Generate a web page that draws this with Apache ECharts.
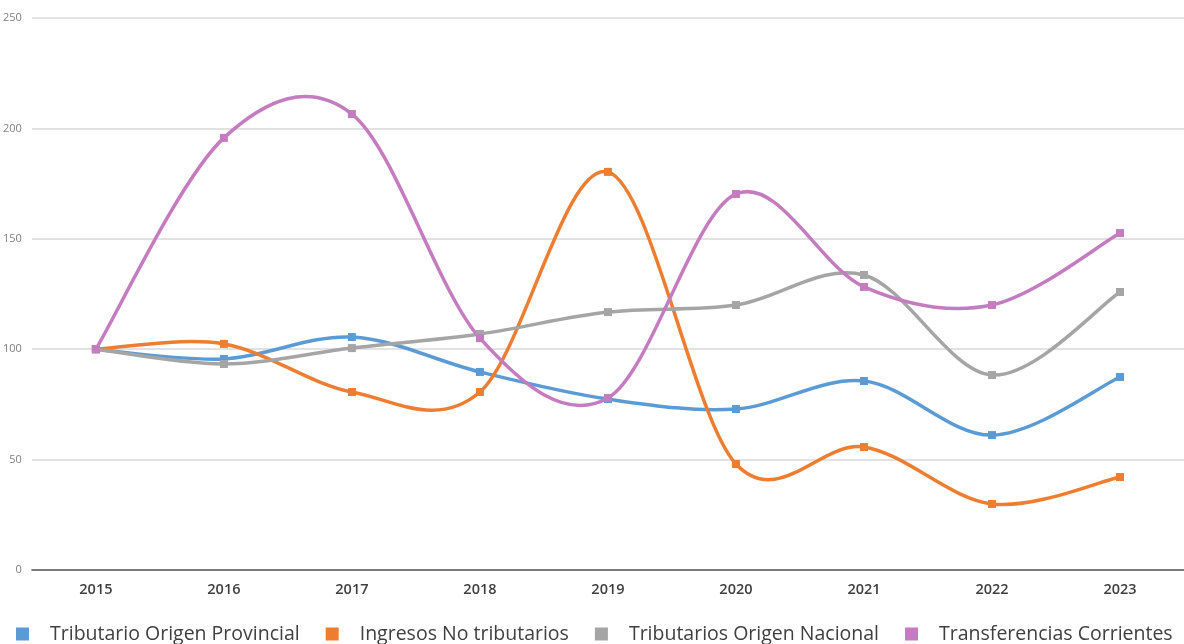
<!DOCTYPE html>
<html>
<head>
<meta charset="utf-8">
<script src="https://cdn.jsdelivr.net/npm/echarts@6/dist/echarts.min.js"></script>
<style>
  html, body { margin: 0; padding: 0; background: #fff; }
  #chart { width: 1184px; height: 644px; }
</style>
</head>
<body>
<div id="chart"></div>
<script>
  // datos
  const years = ['2015', '2016', '2017', '2018', '2019', '2020', '2021', '2022', '2023']
  const yTicks = [0, 50, 100, 150, 200, 250]
  const provincial = [100, 95.6, 105.5, 89.7, 77.4, 72.9, 85.6, 61.1, 87.4]
  const noTributarios = [100, 102.4, 80.6, 80.6, 180.3, 48, 55.7, 29.9, 42.1]
  const nacional = [100, 93.3, 100.5, 106.9, 116.8, 120, 133.6, 88.3, 125.9]
  const transferencias = [100, 195.7, 206.5, 105, 77.9, 170.3, 128.2, 120, 152.6]

  const names = ['Tributario Origen Provincial', 'Ingresos No tributarios', 'Tributarios Origen Nacional', 'Transferencias Corrientes']
  const colors = ['#5b9bd5', '#ed7d31', '#a5a5a5', '#c47bbf']
  const values = [provincial, noTributarios, nacional, transferencias]

  // curva suave tipo Excel (catmull-rom), puntos via api.coord
  function smoothCurve (color) {
    return function (params, api) {
      if (params.dataIndex !== 0) return
      const n = params.dataInsideLength
      const p = []
      for (let k = 0; k < n; k++) p.push(api.coord([k, api.value(1, k)]))
      const segs = []
      for (let k = 0; k < n - 1; k++) {
        const p0 = p[Math.max(k - 1, 0)], p1 = p[k], p2 = p[k + 1], p3 = p[Math.min(k + 2, n - 1)]
        segs.push({
          type: 'bezierCurve',
          shape: {
            x1: p1[0], y1: p1[1],
            cpx1: p1[0] + (p2[0] - p0[0]) / 6, cpy1: p1[1] + (p2[1] - p0[1]) / 6,
            cpx2: p2[0] - (p3[0] - p1[0]) / 6, cpy2: p2[1] - (p3[1] - p1[1]) / 6,
            x2: p2[0], y2: p2[1]
          },
          style: { fill: null, stroke: color, lineWidth: 3.5 }
        })
      }
      return { type: 'group', children: segs }
    }
  }

  const series = []
  values.forEach((v, i) => {
    series.push({
      name: names[i],
      type: 'line',
      data: v,
      symbol: 'rect',
      symbolSize: 8,
      lineStyle: { width: 0, opacity: 0 },
      itemStyle: { color: colors[i] },
      z: 3
    })
    series.push({
      name: names[i],
      type: 'custom',
      data: v.map((val, k) => [k, val]),
      encode: { x: 0, y: 1 },
      renderItem: smoothCurve(colors[i]),
      itemStyle: { color: colors[i] },
      z: 2
    })
  })

  const chart = echarts.init(document.getElementById('chart'))
  chart.setOption({
    color: colors,
    animation: false,
    textStyle: { fontFamily: 'Open Sans' },
    grid: {
      left: 31,
      top: 18,
      width: 1161,
      bottom: 74
    },
    legend: {
      data: names,
      left: 16,
      bottom: 0,
      padding: 0,
      itemWidth: 13,
      itemHeight: 13,
      itemGap: 26,
      icon: 'rect',
      textStyle: { fontSize: 19.5, color: '#404040', fontFamily: 'Open Sans', padding: [0, 0, 0, 16] }
    },
    xAxis: {
      type: 'category',
      data: years,
      boundaryGap: true,
      axisLine: { lineStyle: { color: '#595959', width: 1.5 } },
      axisTick: { show: false },
      axisLabel: { color: '#404040', fontSize: 14.5, fontWeight: 600, margin: 12 }
    },
    yAxis: {
      type: 'value',
      min: yTicks[0],
      max: yTicks[yTicks.length - 1],
      interval: 50,
      axisLine: { show: false },
      axisTick: { show: false },
      axisLabel: { color: '#7f7f7f', fontSize: 11, margin: 10 },
      splitLine: { lineStyle: { color: '#d9d9d9', width: 1.5 } }
    },
    series: series
  })
</script>
</body>
</html>
